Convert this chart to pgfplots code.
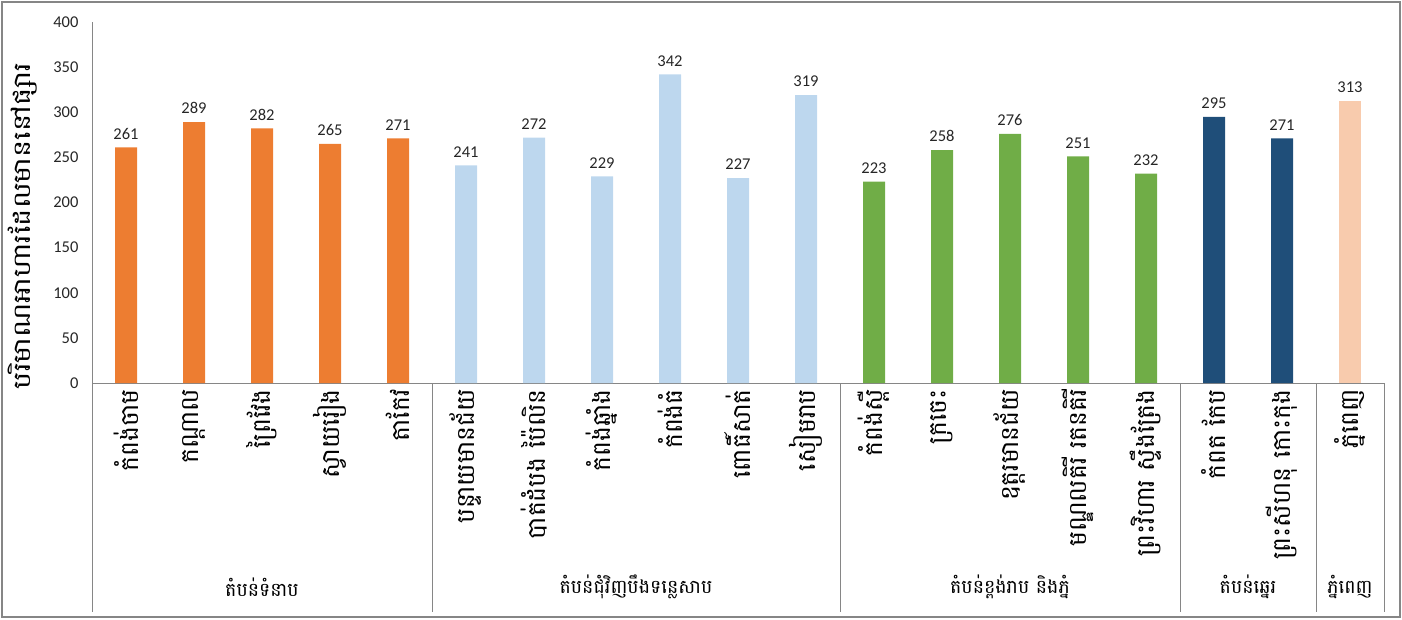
\documentclass[border=0pt]{standalone}
\usepackage{graphicx}
\usepackage{pgfplots}
\pgfplotsset{compat=1.18}
\usepackage{fontspec}
\setmainfont{Carlito}
\newfontfamily\khmer[Script=Khmer]{Battambang}
\definecolor{corange}{HTML}{ED7D31}
\definecolor{clblue}{HTML}{BDD7EE}
\definecolor{cgreen}{HTML}{70AD47}
\definecolor{cdblue}{HTML}{1F4E79}
\definecolor{cpeach}{HTML}{F8CBAD}
\definecolor{axgray}{HTML}{868686}
\begin{document}
\begin{tikzpicture}[x=1pt,y=1pt]
\useasboundingbox (0,0) rectangle (1402,619);
\draw[axgray, line width=1.2pt] (2,2) rectangle (1400,617);
\node[rotate=90, font=\khmer\fontsize{24}{26}\selectfont] at (23,393) {\scalebox{1.2}[1]{បរិមាណអាហារដែលមាននៅផ្សារ}};
\begin{axis}[
  at={(92pt,236pt)}, anchor=south west,
  scale only axis, width=1292pt, height=361pt,
  xmin=-0.5, xmax=18.5, ymin=0, ymax=400,
  axis x line=bottom, axis y line=left,
  axis line style={-, axgray, line width=1pt},
  ytick={0,50,...,400}, major tick length=0pt,
  /pgf/number format/assume math mode=true,
  yticklabel style={font=\fontsize{16.5}{20}\selectfont, text=black!85, xshift=-10pt},
  xtick={0,...,18},
  xticklabels={កំពង់ចាម, កណ្តាល, ព្រៃវែង, ស្វាយរៀង, តាកែវ, បន្ទាយមានជ័យ, បាត់ដំបង ប៉ៃលិន, កំពង់ឆ្នាំង, កំពង់ធំ, ពោធិ៍សាត់, សៀមរាប, កំពង់ស្ពឺ, ក្រចេះ, ឧត្តរមានជ័យ, មណ្ឌលគិរី រតនគិរី, ព្រះវិហារ ស្ទឹងត្រែង, កំពត កែប, ព្រះសីហនុ កោះកុង, ភ្នំពេញ},
  xticklabel style={rotate=90, anchor=east, font=\khmer\fontsize{25}{28}\selectfont, inner sep=6pt},
  clip=false,
  every node near coord/.append style={font=\fontsize{16.5}{19}\selectfont, text=black!85, anchor=south, inner sep=8pt},
]
\addplot[ybar, bar width=22pt, bar shift=0pt, fill=corange, draw=none, nodes near coords] coordinates {(0,261)(1,289)(2,282)(3,265)(4,271)};
\addplot[ybar, bar width=22pt, bar shift=0pt, fill=clblue, draw=none, nodes near coords] coordinates {(5,241)(6,272)(7,229)(8,342)(9,227)(10,319)};
\addplot[ybar, bar width=22pt, bar shift=0pt, fill=cgreen, draw=none, nodes near coords] coordinates {(11,223)(12,258)(13,276)(14,251)(15,232)};
\addplot[ybar, bar width=22pt, bar shift=0pt, fill=cdblue, draw=none, nodes near coords] coordinates {(16,295)(17,271)};
\addplot[ybar, bar width=22pt, bar shift=0pt, fill=cpeach, draw=none, nodes near coords] coordinates {(18,313)};
\foreach \s in {-0.5,4.5,10.5,15.5,17.5,18.5}{
  \edef\tmp{\noexpand\draw[axgray, line width=1pt] (axis cs:\s,0) -- (axis cs:\s,-254);}\tmp
}
\node[font=\khmer\fontsize{19}{22}\selectfont] at (axis cs:2,-226) {តំបន់ទំនាប};
\node[font=\khmer\fontsize{19}{22}\selectfont] at (axis cs:7.5,-226) {តំបន់ជុំវិញបឹងទន្លេសាប};
\node[font=\khmer\fontsize{19}{22}\selectfont] at (axis cs:13,-226) {តំបន់ខ្ពង់រាប និងភ្នំ};
\node[font=\khmer\fontsize{19}{22}\selectfont] at (axis cs:16.5,-226) {តំបន់ឆ្នេរ};
\node[font=\khmer\fontsize{19}{22}\selectfont] at (axis cs:18,-226) {ភ្នំពេញ};
\end{axis}
\end{tikzpicture}
\end{document}
